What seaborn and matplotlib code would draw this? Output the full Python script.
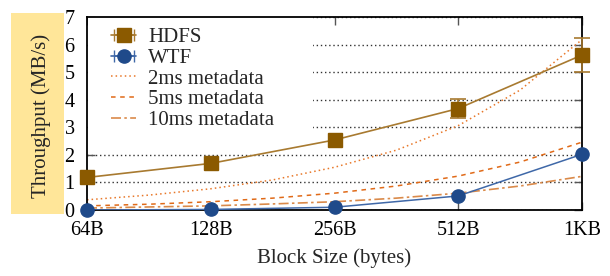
import numpy as np
import matplotlib
matplotlib.use("Agg")
import matplotlib.pyplot as plt
from matplotlib.patches import Rectangle
import seaborn as sns

# data
sizes = [64, 128, 256, 512, 1024]
size_labels = ["64B", "128B", "256B", "512B", "1KB"]
hdfs = [1.18, 1.69, 2.54, 3.68, 5.62]
hdfs_err_lo = [0.0, 0.0, 0.0, 0.36, 0.62]
hdfs_err_hi = [0.0, 0.0, 0.0, 0.34, 0.62]
wtf = [0.0, 0.02, 0.10, 0.51, 2.02]

# metadata curves, read at ticks and half steps
meta_sizes = [64, 90.5, 128, 181, 256, 362, 512, 724, 1024]
meta_2ms = [0.37, 0.54, 0.77, 1.09, 1.55, 2.17, 3.06, 4.35, 6.18]
meta_5ms = [0.15, 0.21, 0.30, 0.43, 0.61, 0.87, 1.23, 1.74, 2.46]
meta_10ms = [0.07, 0.11, 0.15, 0.22, 0.30, 0.43, 0.61, 0.87, 1.22]

sns.set_style("ticks")
plt.rcParams["font.family"] = ["Liberation Serif", "DejaVu Serif"]

brown = "#8B5A00"
brown_line = "#A87A30"
blue = "#1F4A8A"
blue_line = "#3F68A8"
orange = "#E8782A"

fig = plt.figure(figsize=(6.1, 2.76), dpi=100)
ax = fig.add_axes([87 / 610, 1 - 210 / 276, 495 / 610, 193 / 276])

# metadata lines
sns.lineplot(x=meta_sizes, y=meta_2ms, ax=ax, color=orange, lw=1.1,
             linestyle=(0, (1, 2)), label="2ms metadata", zorder=2)
sns.lineplot(x=meta_sizes, y=meta_5ms, ax=ax, color="#E06A18", lw=1.1,
             linestyle=(0, (3, 3)), label="5ms metadata", zorder=2)
sns.lineplot(x=meta_sizes, y=meta_10ms, ax=ax, color="#DA8A4A", lw=1.2,
             linestyle=(0, (6, 2, 1.5, 2)), label="10ms metadata", zorder=2)

# WTF
sns.lineplot(x=sizes, y=wtf, ax=ax, color=blue_line, lw=1.1, zorder=3)
ax.plot(sizes, wtf, ls="none", marker="o", ms=9.5, color=blue, zorder=4,
        clip_on=False)

# HDFS
sns.lineplot(x=sizes, y=hdfs, ax=ax, color=brown_line, lw=1.2, zorder=3)
has_err = [i for i in range(len(sizes)) if hdfs_err_lo[i] + hdfs_err_hi[i] > 0]
ax.errorbar([sizes[i] for i in has_err], [hdfs[i] for i in has_err],
            yerr=[[hdfs_err_lo[i] for i in has_err], [hdfs_err_hi[i] for i in has_err]],
            fmt="none", ecolor=brown_line, elinewidth=1.2, capsize=6,
            capthick=1.2, zorder=3, clip_on=False)
ax.plot(sizes, hdfs, ls="none", marker="s", ms=9.5, color=brown, zorder=5,
        clip_on=False)

# legend proxies with horizontal whiskers
h_hdfs = ax.errorbar([np.nan], [np.nan], xerr=[[1]], fmt="-s", color=brown_line,
                     mfc=brown, mec=brown, ms=9.5, capsize=4, lw=1.2)
h_wtf = ax.errorbar([np.nan], [np.nan], xerr=[[1]], fmt="-o", color=blue_line,
                    mfc=blue, mec=blue, ms=9.5, capsize=4, lw=1.2)
handles, labels = ax.get_legend_handles_labels()
meta_h = [h for h, l in zip(handles, labels) if "metadata" in l]
meta_l = [l for l in labels if "metadata" in l]
ax.legend([h_hdfs, h_wtf] + meta_h, ["HDFS", "WTF"] + meta_l,
          loc="upper left", bbox_to_anchor=(0.02, 1.02), frameon=False,
          fontsize=15, labelspacing=0.05, handlelength=1.2,
          handletextpad=0.55, borderaxespad=0.3)

ax.set_xscale("log", base=2)
ax.set_xlim(64, 1024)
ax.set_ylim(0, 7)
ax.set_xticks(sizes)
ax.set_xticklabels(size_labels)
ax.xaxis.set_minor_locator(matplotlib.ticker.NullLocator())
ax.set_yticks(range(8))

# dotted horizontal grid, hidden behind the key box
ax.set_axisbelow(True)
ax.yaxis.grid(True, color="#333333", linestyle=(0, (1, 2)), lw=1)
ax.add_patch(Rectangle((0.002, 0.39), 0.455, 0.608, transform=ax.transAxes,
                       facecolor="white", edgecolor="none", zorder=0.8))

for s in ax.spines.values():
    s.set_visible(True)
    s.set_color("black")
    s.set_linewidth(1.3)
ax.tick_params(direction="in", length=6, width=1, color="#555555",
               top=True, right=True, labelsize=14.5, labelcolor="black")
ax.tick_params(axis="y", pad=9)
ax.tick_params(axis="x", pad=8)
ax.set_xlabel("Block Size (bytes)", fontsize=15, labelpad=6)
ax.set_ylabel("")

# y label on a coloured box
fig.patches.append(Rectangle((11 / 610, 1 - 214 / 276), 53 / 610, 201 / 276,
                             transform=fig.transFigure, facecolor="#FFE699",
                             edgecolor="none", zorder=0))
fig.text(41 / 610, 1 - 116 / 276, "Throughput (MB/s)", rotation=90,
         ha="center", va="center", fontsize=15)

fig.savefig("out.png", dpi=100)
